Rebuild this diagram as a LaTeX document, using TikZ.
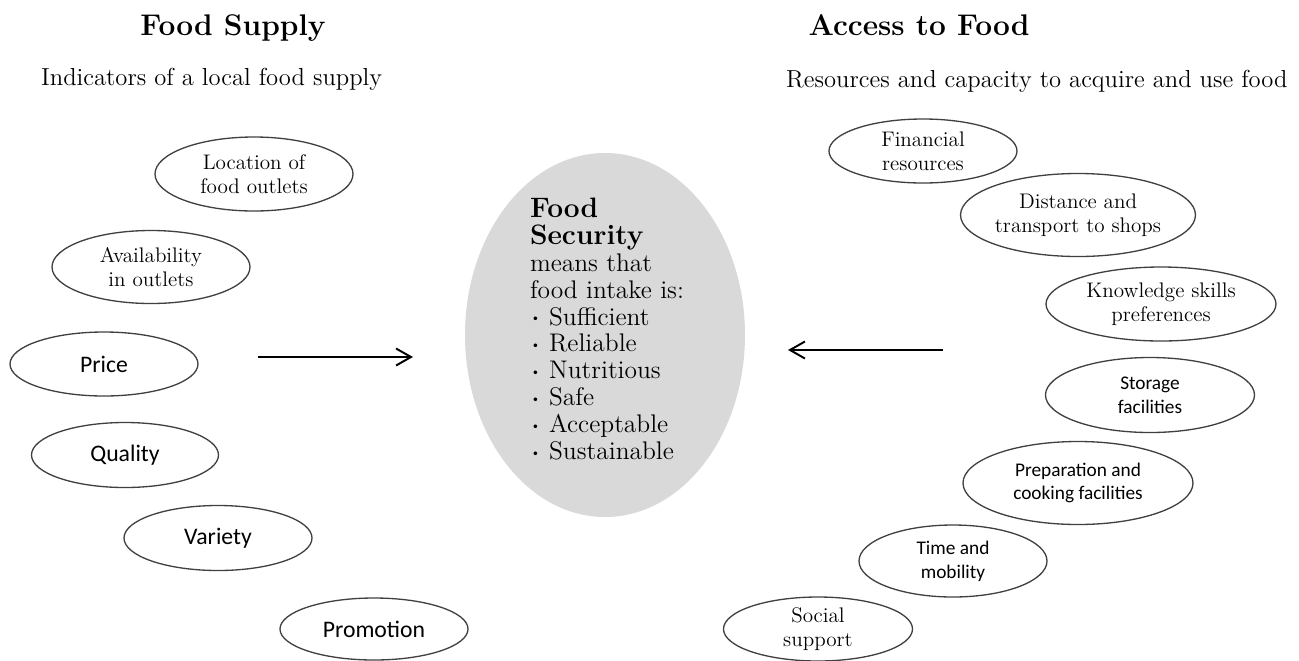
\documentclass[tikz,border=0pt]{standalone}
\usepackage{fontspec}
\newfontfamily\labelsans{Carlito}
\usetikzlibrary{arrows.meta,shapes.geometric}

\newcommand{\fsbullet}{\raisebox{.3ex}{\scriptsize\textbullet}\ }

\begin{document}
\begin{tikzpicture}[
  x=0.2mm, y=-0.2mm,
  heading/.style={anchor=base, font=\bfseries\fontsize{17}{20}\selectfont},
  subheading/.style={anchor=base west, font=\fontsize{14}{16}\selectfont},
  factor/.style={
    draw=black!75,
    line width=.75pt,
    ellipse,
    inner sep=0pt,
    align=center
  },
  seriffactor/.style={factor, font=\fontsize{12}{13.8}\selectfont},
  sansfactor/.style={factor, font=\labelsans\fontsize{13.5}{16}\selectfont},
  smallsans/.style={factor, font=\labelsans\fontsize{11}{13.5}\selectfont},
  hub/.style={
    ellipse,
    fill=black!15,
    minimum width=56mm,
    minimum height=72.8mm,
    inner sep=0pt
  },
  hubtext/.style={align=left, inner sep=0pt, font=\fontsize{14.5}{15.3}\selectfont},
  flow/.style={line width=1.3pt,-{Straight Barb[length=3mm,width=3.4mm,line width=1.1pt]}}
]
  \useasboundingbox (0,0) rectangle (1299,660);

  % column headings
  \node[heading] (supplyhead) at (233,35) {Food Supply};
  \node[subheading] (supplysub) at (35,85) {Indicators of a local food supply};
  \node[heading] (accesshead) at (919,35) {Access to Food};
  \node[subheading] (accesssub) at (780,87) {Resources and capacity to acquire and use food};

  % supply side
  \node[seriffactor, minimum width=39.6mm, minimum height=14.8mm] (location)
    at (254,174) {Location of\\food outlets};
  \node[seriffactor, minimum width=39.6mm, minimum height=14.6mm] (availability)
    at (151,267) {Availability\\in outlets};
  \node[sansfactor, minimum width=37.6mm, minimum height=12.8mm] (price)
    at (104,364) {Price};
  \node[sansfactor, minimum width=37.4mm, minimum height=13mm] (quality)
    at (125,455) {Quality};
  \node[sansfactor, minimum width=37.6mm, minimum height=13mm] (variety)
    at (218,538) {Variety};
  \node[sansfactor, minimum width=37.6mm, minimum height=12.4mm] (promotion)
    at (374,629) {Promotion};

  % the grey centre
  \node[hub] (security) at (605,335) {};
  \node[hubtext] (securitytext) at (607,329) {%
    \textbf{\fontsize{16}{15.3}\selectfont Food}\\
    \textbf{\fontsize{16}{15.3}\selectfont Security}\\
    means that\\
    food intake is:\\
    \fsbullet Sufficient\\
    \fsbullet Reliable\\
    \fsbullet Nutritious\\
    \fsbullet Safe\\
    \fsbullet Acceptable\\
    \fsbullet Sustainable};

  % access side
  \node[seriffactor, minimum width=37.6mm, minimum height=12.8mm] (financial)
    at (923,151) {Financial\\resources};
  \node[seriffactor, minimum width=46mm, minimum height=16.6mm] (distance)
    at (1078,215) {Distance and\\transport to shops};
  \node[seriffactor, minimum width=46mm, minimum height=14.8mm] (knowledge)
    at (1161,304) {Knowledge skills\\preferences};
  \node[smallsans, minimum width=41.8mm, minimum height=15mm] (storage)
    at (1150,395) {Storage\\facilities};
  \node[smallsans, minimum width=46mm, minimum height=16.6mm] (preparation)
    at (1078,483) {Preparation and\\cooking facilities};
  \node[smallsans, minimum width=37.6mm, minimum height=14.4mm] (timemob)
    at (953,561) {Time and\\mobility};
  \node[seriffactor, minimum width=37.8mm, minimum height=12.8mm] (social)
    at (818,629) {Social\\support};

  % both sides feed into the centre
  \coordinate (supplyfrom) at (258,357);
  \coordinate (supplyto) at (413,357);
  \coordinate (accessfrom) at (943,350);
  \coordinate (accessto) at (788,350);
  \draw[flow] (supplyfrom) -- (supplyto);
  \draw[flow] (accessfrom) -- (accessto);
\end{tikzpicture}
\end{document}
